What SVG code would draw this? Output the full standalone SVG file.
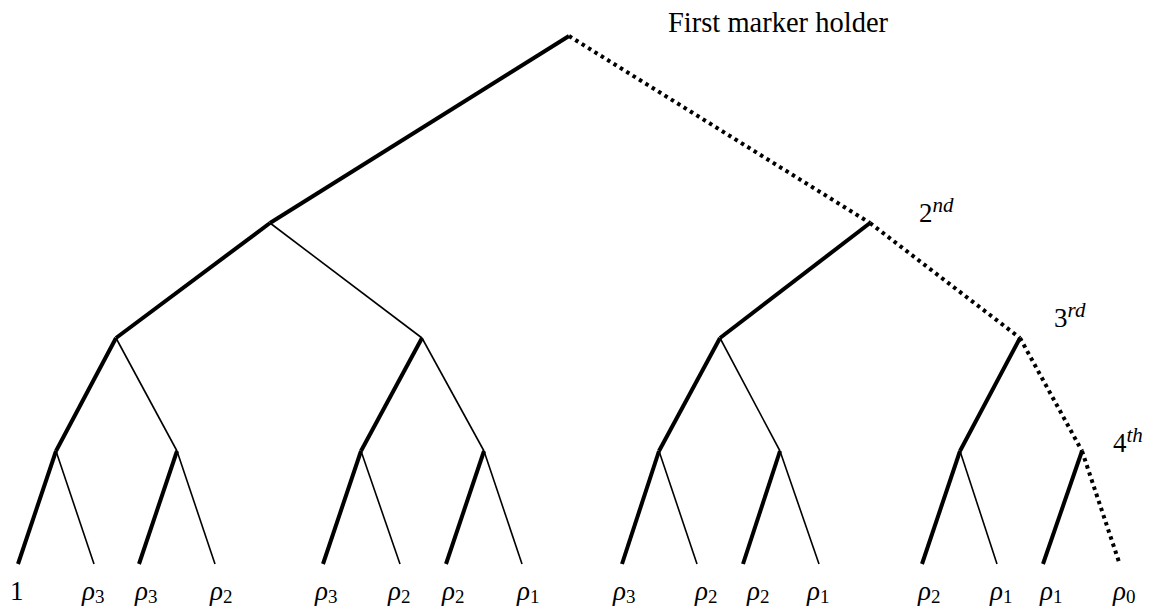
<svg xmlns="http://www.w3.org/2000/svg" width="1158" height="606" viewBox="0 0 1158 606">
<style>
.thick{stroke:#000;stroke-width:4;fill:none;stroke-linecap:butt}
.thin{stroke:#000;stroke-width:1.6;fill:none}
.dot{stroke:#000;stroke-width:4;fill:none;stroke-dasharray:3.5 4}
.t{font-family:"Liberation Serif",serif;fill:#000}
.lbl{font-family:"Liberation Serif",serif;font-size:27px;fill:#000}
.rho{font-style:italic}
.sub{font-size:19px}
.sup{font-style:italic;font-size:21px}
</style>
<rect width="1158" height="606" fill="#fff"/>
<g id="connectors">
<line class="thick" x1="569" y1="36" x2="270" y2="223"/>
<line class="dot" x1="569" y1="36" x2="870" y2="223"/>
<line class="thick" x1="270" y1="223" x2="116" y2="338"/>
<line class="thin" x1="270" y1="223" x2="422" y2="338"/>
<line class="thick" x1="870" y1="223" x2="720" y2="338"/>
<line class="dot" x1="870" y1="223" x2="1020" y2="338"/>
<line class="thick" x1="116" y1="338" x2="56" y2="451"/>
<line class="thin" x1="116" y1="338" x2="177" y2="451"/>
<line class="thick" x1="422" y1="338" x2="361" y2="451"/>
<line class="thin" x1="422" y1="338" x2="484" y2="451"/>
<line class="thick" x1="720" y1="338" x2="659" y2="451"/>
<line class="thin" x1="720" y1="338" x2="780" y2="451"/>
<line class="thick" x1="1020" y1="338" x2="960" y2="451"/>
<line class="dot" x1="1020" y1="338" x2="1082" y2="451"/>
<line class="thick" x1="56" y1="451" x2="18" y2="564"/>
<line class="thin" x1="56" y1="451" x2="94" y2="564"/>
<line class="thick" x1="177" y1="451" x2="139" y2="564"/>
<line class="thin" x1="177" y1="451" x2="215" y2="564"/>
<line class="thick" x1="361" y1="451" x2="323" y2="564"/>
<line class="thin" x1="361" y1="451" x2="400" y2="564"/>
<line class="thick" x1="484" y1="451" x2="446" y2="564"/>
<line class="thin" x1="484" y1="451" x2="522" y2="564"/>
<line class="thick" x1="659" y1="451" x2="622" y2="564"/>
<line class="thin" x1="659" y1="451" x2="697" y2="564"/>
<line class="thick" x1="780" y1="451" x2="743" y2="564"/>
<line class="thin" x1="780" y1="451" x2="819" y2="564"/>
<line class="thick" x1="960" y1="451" x2="922" y2="564"/>
<line class="thin" x1="960" y1="451" x2="997" y2="564"/>
<line class="thick" x1="1082" y1="451" x2="1043" y2="564"/>
<line class="dot" x1="1082" y1="451" x2="1119" y2="562"/>
</g>
<g id="title"><text class="t" x="668" y="32" font-size="28.5">First marker holder</text></g>
<g id="n2"><text class="lbl" x="919" y="222" font-size="29">2<tspan class="sup" dy="-10">nd</tspan></text></g>
<g id="n3"><text class="lbl" x="1054" y="327" font-size="29">3<tspan class="sup" dy="-10">rd</tspan></text></g>
<g id="n4"><text class="lbl" x="1113" y="452" font-size="29">4<tspan class="sup" dy="-10">th</tspan></text></g>
<g id="leaves">
<text class="lbl" x="10" y="600">1</text>
<text class="lbl" x="82" y="600"><tspan class="rho">ρ</tspan><tspan class="sub" dy="3">3</tspan></text>
<text class="lbl" x="135" y="600"><tspan class="rho">ρ</tspan><tspan class="sub" dy="3">3</tspan></text>
<text class="lbl" x="210" y="600"><tspan class="rho">ρ</tspan><tspan class="sub" dy="3">2</tspan></text>
<text class="lbl" x="315" y="600"><tspan class="rho">ρ</tspan><tspan class="sub" dy="3">3</tspan></text>
<text class="lbl" x="388" y="600"><tspan class="rho">ρ</tspan><tspan class="sub" dy="3">2</tspan></text>
<text class="lbl" x="442" y="600"><tspan class="rho">ρ</tspan><tspan class="sub" dy="3">2</tspan></text>
<text class="lbl" x="517" y="600"><tspan class="rho">ρ</tspan><tspan class="sub" dy="3">1</tspan></text>
<text class="lbl" x="613" y="600"><tspan class="rho">ρ</tspan><tspan class="sub" dy="3">3</tspan></text>
<text class="lbl" x="695" y="600"><tspan class="rho">ρ</tspan><tspan class="sub" dy="3">2</tspan></text>
<text class="lbl" x="747" y="600"><tspan class="rho">ρ</tspan><tspan class="sub" dy="3">2</tspan></text>
<text class="lbl" x="807" y="600"><tspan class="rho">ρ</tspan><tspan class="sub" dy="3">1</tspan></text>
<text class="lbl" x="918" y="600"><tspan class="rho">ρ</tspan><tspan class="sub" dy="3">2</tspan></text>
<text class="lbl" x="990" y="600"><tspan class="rho">ρ</tspan><tspan class="sub" dy="3">1</tspan></text>
<text class="lbl" x="1040" y="600"><tspan class="rho">ρ</tspan><tspan class="sub" dy="3">1</tspan></text>
<text class="lbl" x="1113" y="600"><tspan class="rho">ρ</tspan><tspan class="sub" dy="3">0</tspan></text>
</g>
</svg>
